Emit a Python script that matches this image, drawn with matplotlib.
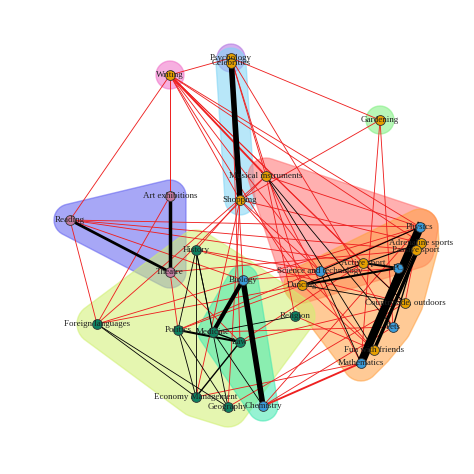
import numpy as np
import matplotlib.pyplot as plt
from matplotlib.patches import Polygon

# node names and positions (pixel coords)
names = ["Psychology", "Celebrities", "Writing", "Gardening", "Musical instruments", "Shopping",
         "Art exhibitions", "Reading", "Theatre", "History", "Biology", "Politics", "Medicine", "Law",
         "Foreign languages", "Economy Management", "Geography", "Chemistry", "Religion",
         "Science and technology", "Dancing", "Active sport", "PC", "Physics", "Adrenaline sports",
         "Passive sport", "Countryside, outdoors", "Pets", "Fun with friends", "Mathematics"]
xs = [231, 231, 170, 380, 266, 240, 170, 70, 170, 196, 243, 178, 213, 240, 97, 196, 228, 263, 295,
      320, 302, 363, 398, 420, 421, 416, 405, 393, 374, 361]
ys = [58, 63, 75, 120, 176, 200, 196, 220, 272, 250, 280, 330, 332, 342, 324, 397, 407, 406, 316,
      271, 285, 263, 268, 227, 243, 250, 303, 327, 350, 363]
node_kind = ["o", "o", "o", "o", "o", "o", "p", "p", "p", "g", "b", "g", "g", "g", "g", "g", "g", "b",
             "g", "b", "o", "o", "b", "b", "o", "o", "o", "b", "o", "b"]
kind_color = {"o": "#E69F00", "b": "#3A9BD9", "g": "#0E8060", "p": "#C47AA0"}

# community hulls: members, colour, padding
groups = [
    (["Writing"], "#F06EC8", 14),
    (["Psychology"], "#B070E0", 14),
    (["Celebrities", "Shopping"], "#7FD4F5", 15),
    (["Gardening"], "#7FF07F", 14),
    (["Musical instruments", "Science and technology", "Dancing", "Passive sport", "Physics"], "#FF6F6F", 18),
    (["Physics", "Adrenaline sports", "Passive sport", "Active sport", "PC", "Countryside, outdoors",
      "Pets", "Fun with friends", "Mathematics", "Dancing"], "#FFA040", 18),
    (["Reading", "Art exhibitions", "Theatre"], "#6060F0", 16),
    (["History", "Politics", "Foreign languages", "Economy Management", "Geography", "Religion",
      "Biology"], "#D0F070", 20),
    (["Biology", "Medicine", "Law", "Chemistry"], "#40E8B0", 15),
]

# strong (black) edges: (a, b, width)
black_edges = [
    ("Psychology", "Shopping", 4), ("Art exhibitions", "Theatre", 2.5), ("Reading", "Theatre", 2),
    ("Biology", "Medicine", 3), ("Biology", "Chemistry", 4), ("Physics", "Mathematics", 6),
    ("Adrenaline sports", "Fun with friends", 2.5), ("Active sport", "PC", 1.5), ("Dancing", "PC", 1.5),
    ("Politics", "Law", 1.5), ("Medicine", "Law", 1), ("Economy Management", "Law", 1),
    ("Passive sport", "Pets", 1), ("Passive sport", "Mathematics", 1), ("Physics", "Science and technology", 0.8),
    ("Adrenaline sports", "Dancing", 0.8), ("Countryside, outdoors", "Dancing", 0.6),
    ("History", "Politics", 0.6), ("History", "Medicine", 0.6), ("History", "Geography", 0.6),
    ("History", "Economy Management", 0.6), ("Politics", "Economy Management", 0.6),
    ("Foreign languages", "Economy Management", 0.6), ("Foreign languages", "Geography", 0.6),
    ("Medicine", "Chemistry", 0.6), ("Medicine", "Religion", 0.6), ("Politics", "Geography", 0.6),
    ("Musical instruments", "Fun with friends", 0.6), ("Musical instruments", "Pets", 0.6),
    ("Science and technology", "Mathematics", 0.6), ("PC", "Mathematics", 0.6),
    ("Active sport", "Countryside, outdoors", 0.6), ("Physics", "PC", 0.6),
]

red_edges = [
    ("Writing", "Psychology", 0.7), ("Writing", "Musical instruments", 1.5), ("Writing", "Shopping", 0.7),
    ("Writing", "Theatre", 0.7), ("Writing", "Art exhibitions", 0.7), ("Writing", "Physics", 0.7),
    ("Writing", "Active sport", 0.7), ("Writing", "Dancing", 0.7), ("Writing", "Science and technology", 0.7),
    ("Writing", "Countryside, outdoors", 0.7), ("Writing", "Reading", 0.7), ("Writing", "Adrenaline sports", 0.7),
    ("Psychology", "Gardening", 0.7), ("Psychology", "Musical instruments", 0.7), ("Psychology", "Biology", 0.7),
    ("Psychology", "Dancing", 0.7), ("Psychology", "Pets", 0.7), ("Psychology", "Law", 0.7),
    ("Gardening", "Pets", 0.7), ("Gardening", "Shopping", 0.7), ("Gardening", "Mathematics", 0.7),
    ("Musical instruments", "Physics", 0.7), ("Musical instruments", "Mathematics", 0.7),
    ("Musical instruments", "Religion", 0.7), ("Musical instruments", "Theatre", 0.7),
    ("Shopping", "Geography", 0.7), ("Shopping", "History", 0.7), ("Shopping", "Fun with friends", 0.7),
    ("Shopping", "Economy Management", 0.7), ("Shopping", "Adrenaline sports", 0.7),
    ("Reading", "Physics", 0.7), ("Reading", "Foreign languages", 0.7), ("Reading", "Active sport", 0.7),
    ("Reading", "Passive sport", 0.7), ("Reading", "Biology", 0.7), ("Art exhibitions", "Foreign languages", 0.7),
    ("Theatre", "Politics", 0.7), ("Theatre", "Passive sport", 0.7), ("Theatre", "Law", 0.7),
    ("Foreign languages", "Dancing", 0.7), ("Foreign languages", "Musical instruments", 0.7),
    ("Foreign languages", "Biology", 0.7), ("Politics", "Physics", 0.7), ("Politics", "Active sport", 0.7),
    ("History", "Science and technology", 0.7), ("History", "Countryside, outdoors", 0.7),
    ("Economy Management", "Mathematics", 0.7), ("Chemistry", "Mathematics", 1.5),
    ("Chemistry", "Physics", 0.7), ("Geography", "Countryside, outdoors", 0.7), ("Chemistry", "Pets", 0.7),
    ("Biology", "Physics", 0.7), ("Biology", "PC", 0.7), ("Medicine", "Pets", 0.7),
    ("Religion", "Fun with friends", 0.7), ("Law", "Countryside, outdoors", 0.7),
    ("Science and technology", "Shopping", 0.7), ("Dancing", "Fun with friends", 0.7),
    ("Active sport", "Law", 0.7), ("Physics", "Countryside, outdoors", 0.7),
]

pos = {n: (x, y) for n, x, y in zip(names, xs, ys)}


def hull(pts):
    pts = sorted(set(pts))
    def cross(o, a, b):
        return (a[0] - o[0]) * (b[1] - o[1]) - (a[1] - o[1]) * (b[0] - o[0])
    lower, upper = [], []
    for p in pts:
        while len(lower) >= 2 and cross(lower[-2], lower[-1], p) <= 0:
            lower.pop()
        lower.append(p)
    for p in reversed(pts):
        while len(upper) >= 2 and cross(upper[-2], upper[-1], p) <= 0:
            upper.pop()
        upper.append(p)
    return lower[:-1] + upper[:-1]


fig = plt.figure(figsize=(4.74, 4.74), dpi=100)
ax = fig.add_axes([0, 0, 1, 1])
ax.set_xlim(0, 474)
ax.set_ylim(474, 0)
ax.axis("off")

ang = np.linspace(0, 2 * np.pi, 36, endpoint=False)
for members, col, r in groups:
    pts = []
    for m in members:
        x, y = pos[m]
        pts += [(round(x + r * np.cos(a), 2), round(y + r * np.sin(a), 2)) for a in ang]
    ax.add_patch(Polygon(hull(pts), closed=True, facecolor=col, alpha=0.55, edgecolor=col, lw=1, zorder=1))

for a, b, w in red_edges:
    ax.plot([pos[a][0], pos[b][0]], [pos[a][1], pos[b][1]], color="#EE2020", lw=w * 0.9, zorder=2)
for a, b, w in black_edges:
    ax.plot([pos[a][0], pos[b][0]], [pos[a][1], pos[b][1]], color="black", lw=w, zorder=3)

for n, k in zip(names, node_kind):
    x, y = pos[n]
    ax.scatter(x, y, s=50, color=kind_color[k], edgecolor="#333333", lw=0.6, zorder=4)
    ax.text(x, y, n, fontsize=6.5, family="Liberation Serif", ha="center", va="center", zorder=5,
            color="#202020")

fig.savefig("out.png", dpi=100)
